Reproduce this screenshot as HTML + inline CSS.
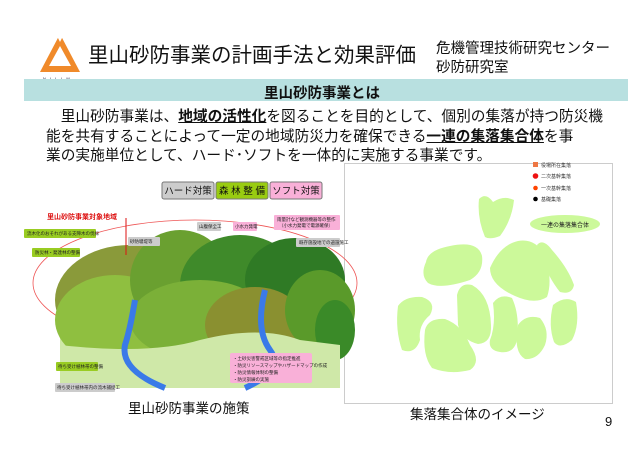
<!DOCTYPE html>
<html><head><meta charset="utf-8"><style>
body{margin:0;width:640px;height:452px;background:#fff;position:relative;overflow:hidden;font-family:"Liberation Sans","Noto Sans CJK JP",sans-serif;}
.a{position:absolute;white-space:nowrap;color:#111;}
</style></head><body>
<svg class="a" style="left:0;top:0" width="640" height="452" viewBox="0 0 640 452">
 <polygon points="60,34 40,72 80,72" fill="#f08a2a"/>
 <polygon points="60,46 49,66 71,66" fill="#fff"/>
 <polygon points="56,34 64,34 60,42" fill="#fff"/>
 <text x="43" y="80" font-size="4" fill="#224" letter-spacing="4">NILIM</text>
 <rect x="24" y="79" width="604" height="22" fill="#b8e0e0"/>
 <rect x="344.5" y="163.5" width="268" height="240" fill="#fff" stroke="#ccc"/>
 <g fill="#ccf99a">
  <path d="M479,199 Q486,192 493,202 Q504,195 514,200 Q512,220 500,236 Q490,240 485,237 Q477,218 479,199Z"/>
  <path d="M426,262 Q428,250 450,246 Q478,240 482,256 Q484,272 470,280 Q440,290 428,283 Q420,275 426,262Z"/>
  <path d="M490,268 Q500,245 518,241 Q535,238 545,255 Q553,280 547,297 Q535,305 515,296 Q490,285 490,268Z"/>
  <path d="M537,245 Q543,238 552,250 Q568,268 574,285 Q572,295 560,292 Q546,275 537,245Z"/>
  <path d="M398,306 Q405,296 422,297 Q437,302 430,315 Q418,325 420,340 Q415,355 402,350 Q395,330 398,306Z"/>
  <path d="M457,295 Q460,282 472,285 Q490,295 491,325 Q492,343 478,344 Q462,340 458,325Z"/>
  <path d="M425,330 Q428,318 445,319 Q462,325 470,345 Q482,362 470,370 Q450,375 432,368 Q422,355 425,330Z"/>
  <path d="M493,303 Q500,293 512,298 Q520,315 517,340 Q514,354 500,352 Q488,350 490,340 Q496,325 493,303Z"/>
  <path d="M518,325 Q526,314 540,318 Q550,330 545,345 Q538,360 525,359 Q513,352 518,325Z"/>
  <path d="M553,305 Q565,295 576,302 Q580,325 572,340 Q560,350 554,342 Q548,325 553,305Z"/>
  <ellipse cx="565" cy="224" rx="35" ry="9"/>
 </g>
 <text x="565" y="227" font-size="6" text-anchor="middle" fill="#222">一連の集落集合体</text>
 <rect x="533" y="162" width="5" height="5" fill="#e74"/>
 <circle cx="535.5" cy="176" r="2.8" fill="#e11"/>
 <circle cx="535.5" cy="188" r="2.3" fill="#f40"/>
 <circle cx="535.5" cy="199" r="2.3" fill="#000"/>
 <g font-size="5" fill="#333"><text x="541" y="167">役場所在集落</text><text x="541" y="178">二次基幹集落</text><text x="541" y="190">一次基幹集落</text><text x="541" y="201">基礎集落</text></g>
 <path d="M60,320 L340,300 L340,388 L60,388Z" fill="#cfe8a8"/>
 <ellipse cx="195" cy="283" rx="162" ry="63" fill="none" stroke="#e55" stroke-width="0.8"/>
 <ellipse cx="130" cy="300" rx="75" ry="55" fill="#8a9a3a"/>
 <ellipse cx="115" cy="320" rx="60" ry="45" fill="#8fbf40"/>
 <ellipse cx="180" cy="280" rx="50" ry="50" fill="#6aa030"/>
 <ellipse cx="240" cy="285" rx="60" ry="50" fill="#3f8a2a"/>
 <ellipse cx="295" cy="280" rx="50" ry="42" fill="#2f7a25"/>
 <ellipse cx="200" cy="320" rx="70" ry="40" fill="#7bb038"/>
 <ellipse cx="255" cy="325" rx="50" ry="38" fill="#8a9030"/>
 <ellipse cx="320" cy="310" rx="35" ry="40" fill="#5a9a2a"/>
 <ellipse cx="335" cy="330" rx="20" ry="30" fill="#3a8a28"/>
 <path d="M60,345 Q150,355 200,340 Q260,325 300,340 L340,345 L340,388 L60,388Z" fill="#cfe8a8"/>
 <path d="M135,300 Q130,330 125,345 Q120,370 165,388" fill="none" stroke="#3a7ae8" stroke-width="6"/>
 <path d="M265,290 Q255,330 270,350 Q285,370 245,388" fill="none" stroke="#3a7ae8" stroke-width="6"/>
 <rect x="162" y="182" width="52" height="17" rx="2" fill="#ccc" stroke="#777"/>
 <rect x="216" y="182" width="52" height="17" rx="2" fill="#99cc11" stroke="#777"/>
 <rect x="270" y="182" width="52" height="17" rx="2" fill="#f9b0d8" stroke="#777"/>
 <g font-size="9.5" text-anchor="middle" fill="#111"><text x="188" y="194">ハード対策</text><text x="242" y="194">森 林 整 備</text><text x="296" y="194">ソフト対策</text></g>
 <text x="47" y="219" font-size="7" font-weight="bold" fill="#d11">里山砂防事業対象地域</text>
 <line x1="126" y1="218" x2="126" y2="255" stroke="#d11"/>
 <g font-size="4.5" fill="#222">
 <rect x="24" y="229" width="72" height="9" fill="#9c2" rx="1"/><text x="27" y="235">流木化のおそれがある支障木の伐採</text>
 <rect x="32" y="248" width="48" height="9" fill="#9c2" rx="1"/><text x="35" y="254">防災林・発達林の整備</text>
 <rect x="128" y="237" width="32" height="9" fill="#ccc" rx="1"/><text x="130" y="243">砂防堰堤等</text>
 <rect x="197" y="222" width="24" height="9" fill="#ccc" rx="1"/><text x="199" y="228">山腹保全工</text>
 <rect x="233" y="222" width="24" height="9" fill="#f9b0d8" rx="1"/><text x="235" y="228">小水力発電</text>
 <rect x="274" y="215" width="66" height="15" fill="#f9b0d8" rx="1"/><text x="277" y="221">雨量計など観測機器等の整作</text><text x="279" y="227">（小水力発電で電源確保）</text>
 <rect x="296" y="238" width="44" height="9" fill="#ccc" rx="1"/><text x="299" y="244">既存施設地での道設施工</text>
 <rect x="56" y="362" width="42" height="9" fill="#9c2" rx="1"/><text x="58" y="368">待ち受け植林帯の整備</text>
 <rect x="55" y="383" width="60" height="9" fill="#ccc" rx="1"/><text x="57" y="389">待ち受け植林帯内の流木捕捉工</text>
 <rect x="230" y="353" width="82" height="30" fill="#f9b0d8" rx="2"/><text x="233" y="360">・土砂災害警戒区域等の指定推進</text><text x="233" y="367">・防災リソースマップやハザードマップの作成</text><text x="233" y="374">・防災情報体制の整備</text><text x="233" y="381">・防災訓練の実施</text>
 </g>
</svg>
<div class="a" style="left:88px;top:38px;font-size:20.5px;">里山砂防事業の計画手法と効果評価</div>
<div class="a" style="left:436px;top:40px;font-size:14.5px;line-height:19px;">危機管理技術研究センター<br>砂防研究室</div>
<div class="a" style="left:264px;top:82px;font-size:14.5px;font-weight:bold;">里山砂防事業とは</div>
<div class="a" style="left:46px;top:108px;font-size:14.7px;line-height:19.5px;">
&#12288;里山砂防事業は、<b style="text-decoration:underline">地域の活性化</b>を図ることを目的として、個別の集落が持つ防災機<br>能を共有することによって一定の地域防災力を確保できる<b style="text-decoration:underline">一連の集落集合体</b>を事<br>業の実施単位として、ハード･ソフトを一体的に実施する事業です。</div>
<div class="a" style="left:128px;top:397px;font-size:13.5px;">里山砂防事業の施策</div>
<div class="a" style="left:410px;top:403px;font-size:13.5px;">集落集合体のイメージ</div>
<div class="a" style="left:605px;top:414px;font-size:13px;">9</div>
</body></html>
